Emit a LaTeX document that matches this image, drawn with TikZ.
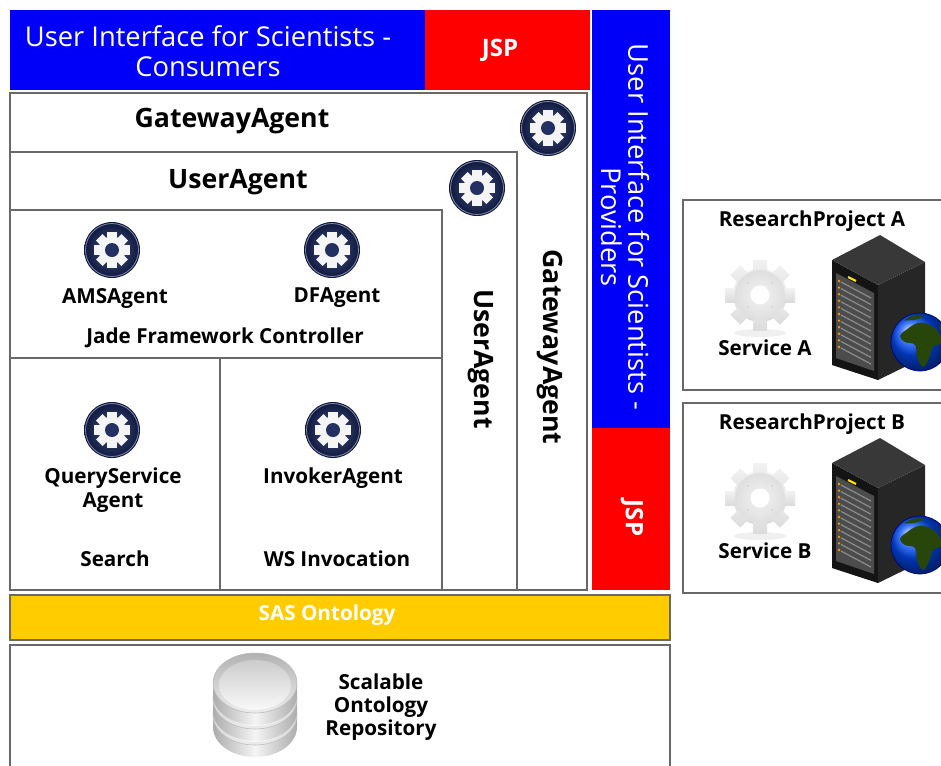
\documentclass[tikz,border=0pt]{standalone}
\usepackage{fontspec}
\setmainfont{Open Sans}
\usetikzlibrary{calc}

\definecolor{uiblue}{RGB}{0,0,250}
\definecolor{uired}{RGB}{255,0,0}
\definecolor{sasyellow}{RGB}{255,204,0}
\definecolor{framegray}{RGB}{105,105,105}
\definecolor{navyout}{RGB}{14,22,58}
\definecolor{navyin}{RGB}{70,88,140}
\definecolor{navyhole}{RGB}{34,48,98}
\definecolor{leaf}{RGB}{40,70,10}

\tikzset{
  box/.style={draw=framegray, line width=1.1pt, fill=white},
  titletext/.style={font=\bfseries\fontsize{20}{24}\selectfont, inner sep=0pt},
  lbl/.style={font=\bfseries\fontsize{15.5}{17.5}\selectfont, inner sep=0pt, align=center},
  uitext/.style={text=white, font=\fontsize{20.5}{22.5}\selectfont, inner sep=0pt, align=center},
  jsptext/.style={text=white, font=\bfseries\fontsize{18}{20}\selectfont, inner sep=0pt},
  % dark round agent icon with a white cog
  agent/.pic={
    \shade[inner color=navyin, outer color=navyout] (0,0) circle (28);
    \draw[navyin!70!white, line width=0.6pt] (0,0) circle (26.5);
    \fill[white!92!gray] (0,0) circle (13.5);
    \foreach \a in {0,45,...,315}
      \fill[white!92!gray, rotate=\a] (-4.6,0) rectangle (4.6,18);
    \fill[navyhole] (0,0) circle (7);
  },
  % pale grey service cog
  servicecog/.pic={
    \fill[gray!12] (0,38) ellipse[x radius=26, y radius=4];
    \shade[top color=gray!8, bottom color=gray!30] (0,0) circle (27);
    \foreach \a in {0,45,...,315}
      \shade[top color=gray!10, bottom color=gray!28, rotate=\a] (-7,0) rectangle (7,35);
    \shade[inner color=gray!10, outer color=gray!25] (0,0) circle (25);
    \fill[white] (0,0) circle (9.5);
    \foreach \a in {45,135,225,315}
      \fill[gray!45, rotate=\a] (0,17) circle (0.9);
  },
  % black rack server
  server/.pic={
    \fill[black!92] (0,25) -- (46,50) -- (46,145) -- (0,130) -- cycle;
    \fill[black!85] (46,50) -- (93,27) -- (93,122) -- (46,145) -- cycle;
    \fill[black!78] (0,25) -- (48,0) -- (93,27) -- (46,50) -- cycle;
    \fill[black!70] (4,38) -- (42,58) -- (42,136) -- (4,123) -- cycle;
    \foreach \k in {0,...,10} {
      \draw[black!45, line width=0.9pt] (9,47+6.6*\k) -- (39,63+6.6*\k);
      \fill[orange!80!yellow] (7,46+6.6*\k) circle (1.3);
    }
    \draw[yellow!85!orange, line width=1.6pt] (16,42) -- (24,46);
  },
  globe/.pic={
    \shade[ball color=blue!70!cyan] (0,0) circle (29);
    \begin{scope}
      \clip (0,0) circle (27);
      \fill[leaf] plot[smooth cycle, tension=0.7] coordinates
        {(-14,-12) (-2,-19) (10,-17) (19,-9) (21,1) (13,5) (9,16) (3,25) (-3,15) (-5,3) (-15,0) (-20,-6)};
      \fill[leaf] plot[smooth cycle] coordinates {(20,-16) (28,-10) (26,-3) (22,-7)};
      \fill[leaf] plot[smooth cycle] coordinates {(-20,-22) (-8,-27) (4,-26) (-6,-22)};
    \end{scope}
    \draw[blue!50!black, line width=0.5pt] (0,0) circle (29);
  },
  % one silver disk of the repository stack
  dbdisk/.pic={
    \shade[left color=gray!65, right color=gray!65, middle color=gray!8]
      (-42,0) -- (-42,12) arc[start angle=180, end angle=0, x radius=42, y radius=30]
      -- (42,0) arc[start angle=0, end angle=180, x radius=42, y radius=30] -- cycle;
    \shade[top color=gray!60, bottom color=gray!15] (0,0) ellipse[x radius=42, y radius=30];
    \shade[top color=gray!40, bottom color=gray!5] (0,2) ellipse[x radius=36, y radius=25];
    \draw[gray!55, line width=0.4pt] (0,0) ellipse[x radius=42, y radius=30];
  },
  project/.pic={
    \draw[box] (0,0) rectangle (265,190);
    \node[lbl] (-title) at (129,21) {ResearchProject #1};
    \pic at (77,95) {servicecog};
    \node[lbl] (-service) at (82,148) {Service #1};
    \pic at (149,35) {server};
    \pic at (237,142) {globe};
  }
}

\begin{document}
\begin{tikzpicture}[x=0.75pt, y=-0.75pt]
  \clip (0,0) rectangle (941,765);
  \fill[white] (0,0) rectangle (941,765);

  % consumer interface bar
  \fill[uiblue] (10,10) rectangle (425,90);
  \fill[uired] (425,10) rectangle (590,90);
  \node[uitext] (consumers) at (208,51) {User Interface for Scientists -\\Consumers};
  \node[jsptext] (jsptop) at (500,50) {JSP};

  % provider interface bar
  \fill[uiblue] (592,10) rectangle (670,428);
  \fill[uired] (592,428) rectangle (670,590);
  \node[uitext, rotate=-90, font=\fontsize{20.5}{20.5}\selectfont] (providers) at (625,227)
    {User Interface for Scientists -\\Providers};
  \node[jsptext, rotate=-90] (jspside) at (632,518) {JSP};

  % nested agent containers
  \draw[box] (10,93) rectangle (587,590);
  \node[titletext] (gwtitle) at (232,121) {GatewayAgent};
  \pic at (548,128) {agent};
  \node[titletext, rotate=-90] (gwside) at (550,347) {GatewayAgent};

  \draw[box] (10,152) rectangle (517,590);
  \node[titletext] (uatitle) at (238,182) {UserAgent};
  \pic at (477,188) {agent};
  \node[titletext, rotate=-90] (uaside) at (481,359) {UserAgent};

  % Jade framework controller
  \draw[box] (10,210) rectangle (442,358);
  \pic at (112,250) {agent};
  \pic at (332,250) {agent};
  \node[lbl] (ams) at (115,298) {AMSAgent};
  \node[lbl] (df) at (337,298) {DFAgent};
  \node[lbl] (jade) at (225,338) {Jade Framework Controller};

  % search and invocation
  \draw[box] (10,358) rectangle (220,590);
  \draw[box] (220,358) rectangle (442,590);
  \pic at (112,430) {agent};
  \pic at (333,430) {agent};
  \node[lbl] (query) at (113,490) {QueryService\\Agent};
  \node[lbl] (search) at (115,559) {Search};
  \node[lbl] (invoker) at (333,478) {InvokerAgent};
  \node[lbl] (wsinv) at (337,559) {WS Invocation};

  % ontology layer
  \draw[draw=framegray, line width=1.1pt, fill=sasyellow] (10,595) rectangle (670,640);
  \node[lbl, text=white] (sas) at (327,615) {SAS Ontology};

  % repository
  \draw[box] (10,645) rectangle (670,780);
  \pic at (255,715) {dbdisk};
  \pic at (255,699) {dbdisk};
  \pic at (255,683) {dbdisk};
  \node[lbl] (repo) at (381,707) {Scalable\\Ontology\\Repository};

  % research projects
  \pic (pa) at (683,200) {project=A};
  \pic (pb) at (683,403) {project=B};
\end{tikzpicture}
\end{document}
